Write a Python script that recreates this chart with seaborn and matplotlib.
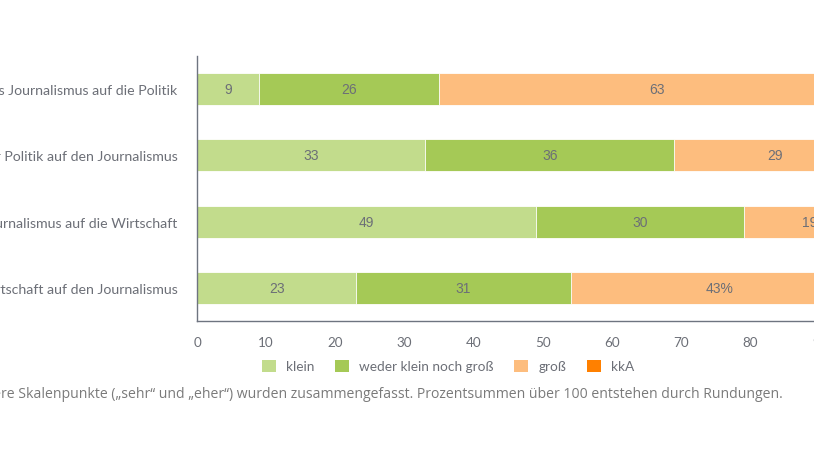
import numpy as np
import pandas as pd
import matplotlib
matplotlib.use("Agg")
import matplotlib.pyplot as plt
from matplotlib.patches import Patch
import seaborn as sns

categories = [
    "Einfluss des Journalismus auf die Politik",
    "Einfluss der Politik auf den Journalismus",
    "Einfluss des Journalismus auf die Wirtschaft",
    "Einfluss der Wirtschaft auf den Journalismus",
]
series = ["klein", "weder klein noch groß", "groß", "kkA"]
klein = [9, 33, 49, 23]
weder = [26, 36, 30, 31]
gross = [63, 29, 19, 43]
kka = [2, 2, 2, 3]
label_suffix = ["", "", "", "%"]

colors = ["#c2dc8c", "#a5c956", "#fdbd7e", "#ff8000"]
text_grey = "#6c6f77"

sns.set_theme(style="white")
plt.rcParams["font.family"] = ["Lato", "DejaVu Sans"]

df = pd.DataFrame({"kategorie": categories, "klein": klein,
                   "weder klein noch groß": weder, "groß": gross, "kkA": kka})
cum = df[series].cumsum(axis=1)
cum["kategorie"] = df["kategorie"]

fig = plt.figure(figsize=(8.14, 4.6), dpi=100)
ax = fig.add_axes([197 / 814, 138 / 460, 692 / 814, 265 / 460])

# stacked bars: draw cumulative totals from the largest down
for name, col in reversed(list(zip(series, colors))):
    sns.barplot(data=cum, x=name, y="kategorie", color=col, orient="h",
                width=0.48, saturation=1, edgecolor="white", linewidth=0.6, ax=ax)

for i, cat in enumerate(categories):
    start = 0
    for name in series[:3]:
        val = df.loc[i, name]
        ax.text(start + val / 2, i, f"{val}{label_suffix[i] if name == 'groß' else ''}",
                ha="center", va="center", fontsize=10, color=text_grey,
                family=["Liberation Sans", "DejaVu Sans"])
        start += val

ax.set_xlim(0, 100)
ax.set_ylim(3.5, -0.5)
ax.set_xticks(range(0, 101, 10))
ax.set_xlabel("")
ax.set_ylabel("")
ax.tick_params(axis="y", length=0, pad=14, labelsize=10.2, labelcolor=text_grey)
ax.tick_params(axis="x", length=0, pad=11, labelsize=9.7, labelcolor=text_grey)
for side in ["top", "right"]:
    ax.spines[side].set_visible(False)
for side in ["left", "bottom"]:
    ax.spines[side].set_color("#6e7480")
    ax.spines[side].set_linewidth(1)

handles = [Patch(facecolor=c, edgecolor="none", label=s) for s, c in zip(series, colors)]
fig.legend(handles=handles, loc="center", bbox_to_anchor=(448 / 814, 1 - 367 / 460),
           ncol=4, frameon=False, fontsize=9.8, handlelength=1.05, handleheight=1.05,
           handletextpad=0.75, columnspacing=1.5, labelcolor=text_grey)

fig.text(783 / 814, 1 - 395 / 460,
         "Anmerkung: Die jeweils beiden äußere Skalenpunkte („sehr“ und „eher“) wurden zusammengefasst. "
         "Prozentsummen über 100 entstehen durch Rundungen.",
         ha="right", va="center", fontsize=10.1, color="#7a7a7a",
         family=["Open Sans", "DejaVu Sans"])

fig.savefig("out.png", dpi=100)
